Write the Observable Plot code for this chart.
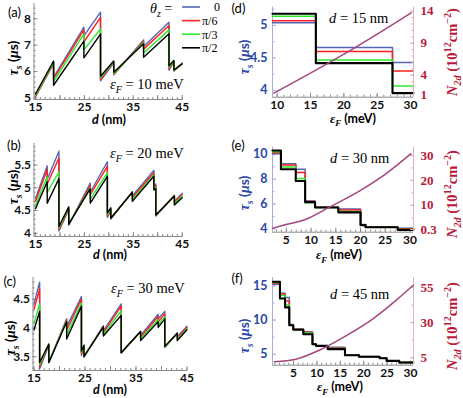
<!DOCTYPE html>
<html><head><meta charset="utf-8">
<script src="https://cdn.jsdelivr.net/npm/d3@7"></script>
<script src="https://cdn.jsdelivr.net/npm/@observablehq/plot@0.6"></script>
<style>
body{margin:0;background:#fff}
#fig{position:relative;width:463px;height:398px;overflow:hidden;background:#fff}
#fig svg{position:absolute;left:0;top:0}
</style></head><body><div id="fig"></div>
<script>
// ---------------- data ----------------
const seriesNames = ["0", "π/6", "π/3", "π/2"];   // θz values
const dTicks = [15, 25, 35, 45];

// (a) εF = 10 meV
const dA = [15, 18.7, 18.7, 24.9, 24.9, 28.3, 28.3, 31.0, 31.0, 37.1, 37.1, 42.3, 42.3, 43.3, 43.3, 45];
const tauA_0 = [5.05, 6.30, 5.78, 7.68, 7.35, 8.25, 5.65, 6.33, 5.88, 7.20, 6.95, 7.87, 6.05, 6.36, 6.02, 6.32];
const tauA_6 = [5.07, 6.32, 5.72, 7.58, 7.12, 8.05, 5.70, 6.35, 5.90, 7.15, 6.85, 7.75, 6.10, 6.38, 6.03, 6.31];
const tauA_3 = [5.10, 6.36, 5.62, 7.43, 6.82, 7.62, 5.76, 6.37, 5.93, 7.10, 6.70, 7.58, 6.16, 6.40, 6.04, 6.30];
const tauA_2 = [5.15, 6.40, 5.48, 7.15, 6.52, 7.42, 5.82, 6.40, 5.97, 7.05, 6.54, 7.43, 6.22, 6.42, 6.06, 6.29];
const tauTicksA = [5, 6, 7, 8];

// (b) εF = 20 meV
const dB = [15, 17.4, 17.4, 19.8, 19.8, 21.8, 21.8, 26.2, 26.2, 29.7, 29.7, 30.4, 30.4, 34.8, 34.8, 39.2, 39.2, 39.6, 39.6, 43.4, 43.4, 45];
const tauB_0 = [4.76, 5.48, 5.18, 5.80, 4.05, 4.52, 4.18, 5.10, 4.90, 5.57, 4.35, 4.50, 4.32, 4.91, 4.82, 5.38, 5.05, 5.08, 4.38, 4.83, 4.70, 4.88];
const tauB_6 = [4.70, 5.40, 5.08, 5.65, 4.08, 4.54, 4.19, 5.05, 4.85, 5.47, 4.38, 4.52, 4.32, 4.91, 4.78, 5.33, 5.02, 5.05, 4.39, 4.83, 4.68, 4.85];
const tauB_3 = [4.61, 5.24, 4.90, 5.35, 4.12, 4.56, 4.20, 5.00, 4.75, 5.33, 4.42, 4.54, 4.33, 4.90, 4.74, 5.28, 4.98, 5.01, 4.40, 4.82, 4.65, 4.82];
const tauB_2 = [4.54, 5.13, 4.66, 5.20, 4.15, 4.58, 4.20, 4.98, 4.66, 5.25, 4.45, 4.56, 4.33, 4.90, 4.70, 5.25, 4.95, 4.98, 4.40, 4.82, 4.62, 4.78];
const tauTicksB = [4, 4.5, 5, 5.5];

// (c) εF = 30 meV
const dC = [15, 16.1, 16.1, 17.9, 17.9, 21.4, 21.4, 24.3, 24.3, 24.8, 24.8, 28.6, 28.6, 32.1, 32.1, 35.9, 35.9, 39.35, 39.35, 40.65, 40.65, 43.1, 43.1, 45];
const tauC_0 = [4.42, 4.80, 3.29, 3.70, 3.40, 4.16, 4.02, 4.55, 3.52, 3.68, 3.50, 4.04, 3.95, 4.42, 3.57, 3.94, 3.87, 4.24, 4.16, 4.29, 3.66, 3.91, 3.85, 4.03];
const tauC_6 = [4.33, 4.68, 3.32, 3.71, 3.40, 4.14, 3.96, 4.50, 3.55, 3.69, 3.50, 4.03, 3.92, 4.38, 3.57, 3.94, 3.84, 4.20, 4.11, 4.25, 3.67, 3.91, 3.83, 4.01];
const tauC_3 = [4.08, 4.42, 3.36, 3.72, 3.40, 4.12, 3.88, 4.43, 3.58, 3.70, 3.50, 4.02, 3.89, 4.30, 3.57, 3.94, 3.81, 4.15, 4.06, 4.20, 3.67, 3.91, 3.80, 3.99];
const tauC_2 = [3.97, 4.29, 3.40, 3.72, 3.40, 4.11, 3.81, 4.38, 3.60, 3.70, 3.50, 4.02, 3.86, 4.22, 3.57, 3.94, 3.78, 4.11, 4.01, 4.16, 3.68, 3.91, 3.78, 3.97];
const tauTicksC = [3.5, 4, 4.5];

// (d) d = 15 nm
const epsD = [9.3, 15.8, 27.3, 30.45];
const tauD_0 = [5.04, 4.66, 4.43];
const tauD_6 = [5.07, 4.60, 4.30];
const tauD_3 = [5.14, 4.47, 4.07];
const tauD_2 = [5.18, 4.42, 3.96];
const nEpsD = [9.5, 15.8, 21.5, 27.3, 30.1];
const nD = [1.2, 4.8, 8.2, 11.9, 13.75];
const epsTicksD = [10, 15, 20, 25, 30];
const tauTicksD = [4, 4.5, 5];
const nTicksD = [1, 4, 9, 14];

// (e) d = 30 nm
const epsE = [2.2, 3.9, 6.9, 8.8, 10.8, 15.5, 20.0, 21.0, 27.5, 30.7];
const tauE_0 = [10.05, 9.25, 8.80, 6.25, 5.75, 5.60, 4.36, 4.15, 4.05];
const tauE_6 = [10.14, 9.15, 8.55, 6.20, 5.74, 5.52, 4.34, 4.14, 4.00];
const tauE_3 = [10.22, 8.98, 8.05, 6.10, 5.73, 5.40, 4.32, 4.13, 3.95];
const tauE_2 = [10.32, 8.80, 7.86, 6.15, 5.72, 5.33, 4.30, 4.13, 3.92];
const nEpsE = [2.2, 4.2, 8.8, 13.7, 20.0, 25.1, 30.2];
const nE = [0.8, 1.9, 4.3, 9.25, 16.0, 22.6, 30.7];
const epsTicksE = [5, 10, 15, 20, 25, 30];
const tauTicksE = [4, 6, 8, 10];
const nTicksE = [0.3, 10, 20, 30];

// (f) d = 45 nm
const epsF = [0.6, 2.1, 3.2, 4.1, 4.95, 7.1, 9.05, 9.8, 12.3, 16.0, 19.0, 23.4, 24.9, 27.6, 30.6];
const tauF_0 = [15.25, 13.93, 13.3, 9.35, 8.70, 8.28, 6.50, 6.25, 6.00, 4.88, 4.65, 4.45, 4.05, 3.80];
const tauF_6 = [15.40, 13.80, 12.8, 9.30, 8.65, 8.20, 6.48, 6.24, 5.92, 4.87, 4.64, 4.43, 4.04, 3.79];
const tauF_3 = [15.50, 13.60, 12.2, 9.28, 8.60, 8.10, 6.46, 6.23, 5.85, 4.86, 4.63, 4.41, 4.03, 3.78];
const tauF_2 = [15.60, 13.15, 11.85, 9.25, 8.57, 7.93, 6.45, 6.22, 5.75, 4.85, 4.62, 4.40, 4.02, 3.78];
const nEpsF = [0.9, 5.5, 10.5, 16.2, 21.9, 26.9, 30.6];
const nF = [2.2, 4.0, 10.4, 20.6, 32.5, 45.8, 56.6];
const epsTicksF = [5, 10, 15, 20, 25, 30];
const tauTicksF = [5, 10, 15];
const nTicksF = [5, 30, 55];

// ---------------- style ----------------
const W = 463, H = 398;
const BLUE = "#5566b5", RED = "#ff1f1f", GREEN = "#2ee62e", BLACK = "#000000", NCOL = "#a3477f";
const COLORS = [BLUE, RED, GREEN, BLACK];
const AX = "#8a8a8a", TAUBLUE = "#2a46a8", NRED = "#b8193a";
const SERIF = "'Liberation Serif','DejaVu Serif',serif";
const SANS = "Lato,'Open Sans',sans-serif";
const fig = document.getElementById("fig");

const rng = (a, b, s) => d3.range(a, b + 1e-9, s).map(v => +v.toFixed(4));
const zip = (xs, ys) => xs.map((x, i) => ({x, y: ys[i]}));
const steps = (xs, ys) => ys.map((y, i) => ({x: xs[i], y})).concat([{x: xs[xs.length - 1], y: ys[ys.length - 1]}]);
const fmt = d => `${d}`;

function addPlot(fr, xDom, yDom, marks, xAxis = undefined) {
  const svg = Plot.plot({
    width: W, height: H,
    marginLeft: fr.l, marginRight: W - fr.r, marginTop: fr.t, marginBottom: H - fr.b,
    x: {domain: xDom, label: null, axis: xAxis}, y: {domain: yDom, label: null},
    style: {position: "absolute", left: "0px", top: "0px", background: "transparent", overflow: "visible", fontFamily: SANS, maxWidth: "none"},
    marks
  });
  fig.appendChild(svg);
}

function leftPanel(fr, xDom, yDom, yTicks, yMinor, xs, ys) {
  addPlot(fr, xDom, yDom, [
    Plot.ruleX([xDom[0]], {stroke: AX}),
    Plot.ruleY([yDom[0]], {stroke: AX}),
    Plot.axisX({ticks: rng(15, 45, 1), tickSize: -2, fill: "none", stroke: AX, label: null}),
    Plot.axisX({ticks: rng(15, 45, 5), tickSize: -4, fill: "none", stroke: AX, label: null}),
    Plot.axisX({ticks: dTicks, tickSize: 0, tickPadding: 3, fill: "#111", label: null, fontSize: 12, fontWeight: "bold", tickFormat: fmt}),
    Plot.axisY({ticks: yMinor, tickSize: -2, fill: "none", stroke: AX, label: null}),
    Plot.axisY({ticks: yTicks, tickSize: -4, fill: "none", stroke: AX, label: null}),
    Plot.axisY({ticks: yTicks, tickSize: 0, tickPadding: 3, fill: "#111", label: null, fontSize: 12, fontWeight: "bold", tickFormat: fmt}),
    ...ys.map((arr, i) => Plot.line(zip(xs, arr), {x: "x", y: "y", stroke: COLORS[i], strokeWidth: 1.4}))
  ]);
}

function rightPanel(fr, xDom, xTicks, yDom, yTicks, yMinor, eps, taus, nDom, nTicks, nMinor, nEps, nVals) {
  addPlot(fr, xDom, yDom, [
    Plot.ruleY([yDom[0]], {stroke: AX}),
    Plot.ruleX([xDom[0]], {stroke: "#a9aed8"}),
    Plot.axisX({ticks: rng(Math.ceil(xDom[0]), Math.floor(xDom[1]), 1), tickSize: -2, fill: "none", stroke: AX, label: null}),
    Plot.axisX({ticks: xTicks, tickSize: -4, fill: "none", stroke: AX, label: null}),
    Plot.axisX({ticks: xTicks, tickSize: 0, tickPadding: 3, fill: "#111", label: null, fontSize: 12, fontWeight: "bold", tickFormat: fmt}),
    Plot.axisY({ticks: yMinor, tickSize: -2.5, fill: "none", stroke: "#a9aed8", label: null}),
    Plot.axisY({ticks: yTicks, tickSize: -4, fill: "none", stroke: "#a9aed8", label: null}),
    Plot.axisY({ticks: yTicks, tickSize: 0, tickPadding: 5, fill: TAUBLUE, label: null, fontSize: 12.5, fontWeight: "bold", tickFormat: fmt}),
    ...taus.map((arr, i) => Plot.line(steps(eps, arr), {x: "x", y: "y", curve: "step-after", stroke: COLORS[i], strokeWidth: i === 3 ? 2.1 : 1.5}))
  ]);
  addPlot(fr, xDom, nDom, [
    Plot.ruleX([xDom[1]], {stroke: "#e2b4c4"}),
    Plot.axisY({anchor: "right", ticks: nMinor, tickSize: -2.5, fill: "none", stroke: "#d9a9bb", label: null}),
    Plot.axisY({anchor: "right", ticks: nTicks, tickSize: -4, fill: "none", stroke: "#d9a9bb", label: null}),
    Plot.axisY({anchor: "right", ticks: nTicks, tickSize: 0, tickPadding: 7, fill: NRED, label: null, fontSize: 13, fontWeight: "bold", fontFamily: SERIF, tickFormat: fmt}),
    Plot.line(zip(nEps, nVals), {x: "x", y: "y", stroke: NCOL, strokeWidth: 1.5, curve: "monotone-x"})
  ], null);
}

// ---------------- panels ----------------
leftPanel({l: 33.5, r: 182.7, t: 3, b: 99}, [14.7, 45.2], [4.94, 8.58], tauTicksA, rng(5, 8.4, 0.2), dA, [tauA_0, tauA_6, tauA_3, tauA_2]);
leftPanel({l: 33.5, r: 182.7, t: 143, b: 236}, [14.7, 45.2], [3.93, 5.97], tauTicksB, rng(4, 5.9, 0.1), dB, [tauB_0, tauB_6, tauB_3, tauB_2]);
leftPanel({l: 32.5, r: 187.5, t: 277, b: 370}, [14.8, 45.2], [3.26, 4.88], tauTicksC, rng(3.3, 4.8, 0.1), dC, [tauC_0, tauC_6, tauC_3, tauC_2]);

rightPanel({l: 272, r: 413, t: 6.7, b: 96.7}, [9.3, 30.45], epsTicksD, [3.897, 5.28], tauTicksD, rng(4, 5.25, 0.25),
  epsD, [tauD_0, tauD_6, tauD_3, tauD_2], [0.56, 14.63], nTicksD, rng(2, 14, 1), nEpsD, nD);
rightPanel({l: 272, r: 413, t: 146.7, b: 231.7}, [2.2, 30.7], epsTicksE, [3.73, 10.58], tauTicksE, rng(4, 10, 1),
  epsE, [tauE_0, tauE_6, tauE_3, tauE_2], [-0.78, 33.3], nTicksE, rng(5, 30, 5), nEpsE, nE);
rightPanel({l: 272, r: 413, t: 277, b: 364.7}, [0.51, 30.64], epsTicksF, [3.39, 16.23], tauTicksF, rng(5, 15, 2.5),
  epsF, [tauF_0, tauF_6, tauF_3, tauF_2], [-0.26, 62.1], nTicksF, rng(5, 55, 12.5), nEpsF, nF);

// ---------------- annotations ----------------
const ann = d3.select(fig).append("svg").attr("width", W).attr("height", H)
  .style("position", "absolute").style("left", "0px").style("top", "0px").style("overflow", "visible");

function rich(x, y, parts, {size = 13, family = SANS, fill = "#000", weight = "normal", anchor = "start", rotate = 0} = {}) {
  const t = ann.append("text").attr("transform", `translate(${x},${y}) rotate(${rotate})`)
    .attr("font-size", size).attr("font-family", family).attr("fill", fill)
    .attr("font-weight", weight).attr("text-anchor", anchor);
  let shift = 0;
  for (const p of parts) {
    const s = t.append("tspan").text(p.t);
    const target = p.sub ? size * 0.3 : p.sup ? -size * 0.42 : 0;
    if (target !== shift) { s.attr("dy", target - shift); shift = target; }
    if (p.sub || p.sup) s.attr("font-size", size * 0.7);
    if (p.i) s.attr("font-style", "italic");
    if (p.f) s.attr("font-family", p.f);
  }
  return t;
}

// panel letters
[["(a)", 8, 17], ["(b)", 7, 149.5], ["(c)", 3.5, 286], ["(d)", 231.5, 13], ["(e)", 231.5, 149.5], ["(f)", 231.5, 282.5]]
  .forEach(([s, x, y]) => rich(x, y, [{t: s}], {size: 13}));

// y labels τs (μs)
const tauParts = [{t: "τ", i: 1, f: SERIF}, {t: "s", sub: 1, i: 1, f: SERIF}, {t: " ("}, {t: "μ", i: 1, f: SERIF}, {t: "s)"}];
[[18, 58], [18, 187], [14.5, 338]].forEach(([x, y]) => rich(x, y, tauParts, {size: 14, weight: "bold", anchor: "middle", rotate: -90}));
[[248.5, 57], [248.5, 193], [248.5, 336]].forEach(([x, y]) => rich(x, y, tauParts, {size: 14, weight: "bold", anchor: "middle", rotate: -90, fill: TAUBLUE}));

// x labels
[[109, 124], [110, 259], [110, 393.5]].forEach(([x, y]) =>
  rich(x, y, [{t: "d", i: 1}, {t: " (nm)"}], {size: 12.5, weight: "bold", anchor: "middle"}));
[[353, 122.5], [339, 259], [340, 391]].forEach(([x, y]) =>
  rich(x, y, [{t: "ε", i: 1, f: SERIF}, {t: "F", sub: 1, i: 1, f: SERIF}, {t: " (meV)"}], {size: 12.5, weight: "bold", anchor: "middle"}));

// N2d labels
const nParts = [{t: "N", i: 1}, {t: "2d", sub: 1, i: 1}, {t: " (10"}, {t: "12", sup: 1}, {t: "cm"}, {t: "−2", sup: 1}, {t: ")"}];
[[457, 52], [457, 194], [457, 326]].forEach(([x, y]) =>
  rich(x, y, nParts, {size: 14.5, family: SERIF, weight: "bold", anchor: "middle", rotate: -90, fill: NRED}));

// εF / d annotations
[["10", 110, 89], ["20", 110, 158], ["30", 111, 292.5]].forEach(([v, x, y]) =>
  rich(x, y, [{t: "ε", i: 1}, {t: "F", sub: 1, i: 1}, {t: ` = ${v} meV`}], {size: 14.5, family: SERIF}));
[["15", 329, 23], ["30", 330, 163], ["45", 330, 299]].forEach(([v, x, y]) =>
  rich(x, y, [{t: "d", i: 1}, {t: ` = ${v} nm`}], {size: 14.5, family: SERIF}));

// legend (a)
rich(150, 12.5, [{t: "θ", i: 1}, {t: "z", sub: 1, i: 1}, {t: " ="}], {size: 14, family: SERIF});
seriesNames.forEach((s, i) => {
  const y = 7 + i * 13.6;
  ann.append("line").attr("x1", 182).attr("x2", 200).attr("y1", y).attr("y2", y).attr("stroke", COLORS[i]).attr("stroke-width", 1.6);
  rich(i === 0 ? 214 : 202, y + 4.3, [{t: s}], {size: 12, family: SERIF});
});
</script></body></html>
